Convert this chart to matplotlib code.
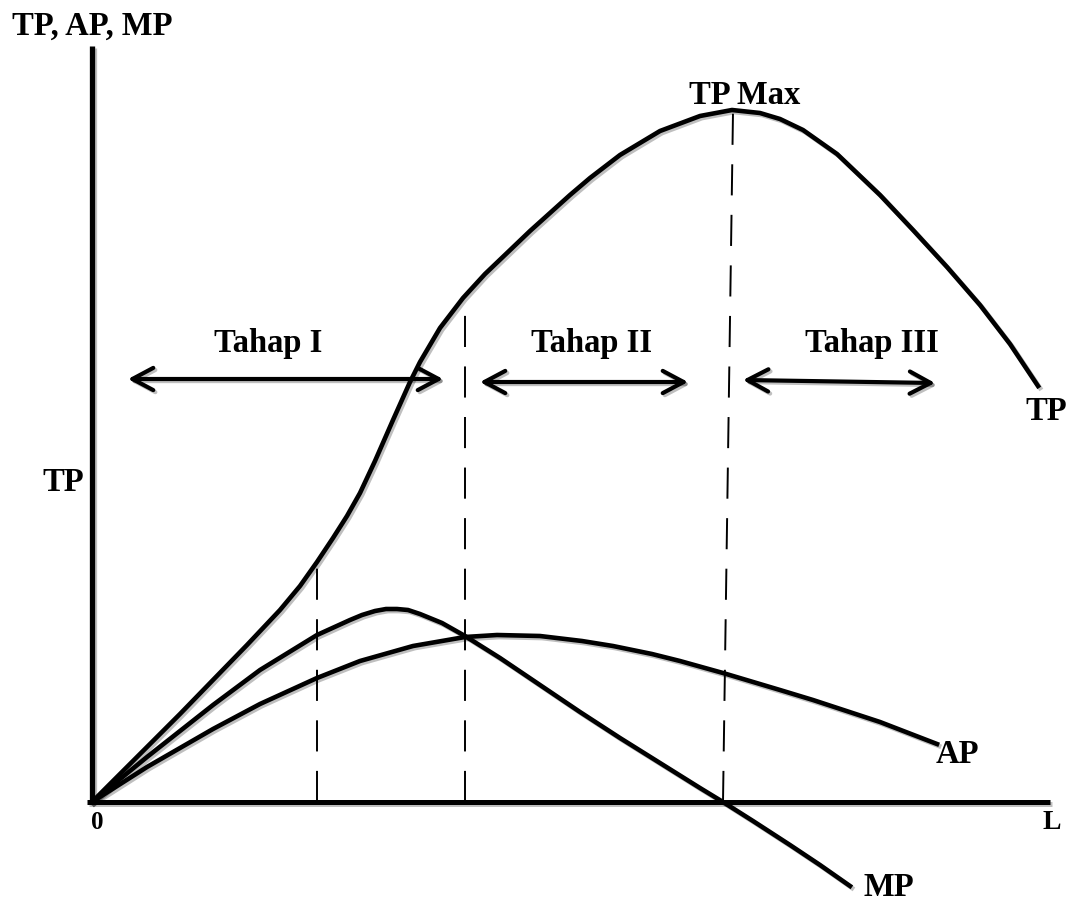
import matplotlib
matplotlib.use('Agg')
import matplotlib.pyplot as plt
import matplotlib.patheffects as pe
from matplotlib.patches import FancyArrowPatch

plt.rcParams['font.family'] = ['Liberation Serif', 'DejaVu Serif']
plt.rcParams['font.weight'] = 'bold'

# Curve points (L, value)
tp_x = [0, 28, 55, 88, 121, 155, 188, 208, 225, 241, 255, 268, 283, 301, 318, 328, 348, 371,
        393, 415, 438, 458, 478, 498, 528, 568, 608, 640, 668, 688, 711, 745, 788, 821, 855,
        888, 918, 946]
tp_y = [0, 28, 55, 88, 122, 157, 192, 216, 240, 264, 286, 309, 341, 382, 420, 440, 474, 504,
        528, 549, 571, 589, 607, 624, 647, 671, 686, 692, 689, 683, 672, 648, 607, 572, 535,
        497, 458, 416]

mp_x = [0, 55, 121, 168, 225, 258, 270, 283, 294, 305, 316, 328, 350, 373, 408, 448, 488,
        528, 568, 608, 631, 661, 698, 728, 758]
mp_y = [0, 45, 97, 132, 167, 182, 187, 191, 193, 193, 192, 188, 179, 166, 144, 117, 90,
        64, 39, 14, 0, -19, -43, -63, -84]

ap_x = [0, 55, 121, 168, 225, 268, 321, 373, 405, 448, 490, 521, 560, 588, 631, 688, 721,
        788, 845]
ap_y = [0, 35, 73, 98, 124, 141, 156, 165, 167, 166, 161, 156, 148, 141, 129, 112, 102,
        80, 58]

# dashed guide lines: (x bottom, x top, y top)
guide_x0 = [225, 373, 631]
guide_x1 = [225, 373, 641]
guide_top = [250, 500, 690]

# stage arrows
stage_labels = ['Tahap I', 'Tahap II', 'Tahap III']
stage_x0 = [36, 388, 651]
stage_x1 = [351, 596, 843]
stage_y0 = [423, 420, 422]
stage_y1 = [423, 420, 419]
stage_text_x = [176, 500, 780]

fig = plt.figure(figsize=(10.7, 9.03), dpi=100)
ax = fig.add_axes([0, 0, 1, 1])
ax.set_xlim(-92, 978)
ax.set_ylim(-100, 803)
ax.axis('off')

shadow = [pe.SimpleLineShadow(offset=(1.5, -1.5), shadow_color='k', alpha=0.25), pe.Normal()]

# axes
ax.plot([0, 0], [0, 756], color='black', lw=3.8, solid_capstyle='butt', path_effects=shadow)
ax.plot([-5, 958], [0, 0], color='black', lw=3.6, solid_capstyle='butt', path_effects=shadow)

# curves
for xs, ys in [(tp_x, tp_y), (mp_x, mp_y), (ap_x, ap_y)]:
    ax.plot(xs, ys, color='black', lw=3.3, solid_joinstyle='round', path_effects=shadow)

# dashed lines
for x0, x1, top in zip(guide_x0, guide_x1, guide_top):
    ax.plot([x0, x1], [0, top], color='black', lw=1.4, linestyle=(0, (16, 10)))

# arrows
for x0, x1, y0, y1 in zip(stage_x0, stage_x1, stage_y0, stage_y1):
    arr = FancyArrowPatch((x0, y0), (x1, y1), arrowstyle='<->,head_length=0.75,head_width=0.4',
                          mutation_scale=20, lw=3.0, color='black', shrinkA=0, shrinkB=0,
                          capstyle='round', joinstyle='round', path_effects=shadow)
    ax.add_patch(arr)

fs = 23.5
for lab, tx in zip(stage_labels, stage_text_x):
    ax.text(tx, 451, lab, ha='center', va='baseline', fontsize=fs, fontweight='bold')

ax.text(0.5, 768, 'TP, AP, MP', ha='center', va='baseline', fontsize=fs, fontweight='bold')
ax.text(653, 699, 'TP Max', ha='center', va='baseline', fontsize=fs, fontweight='bold')
ax.text(-29, 312, 'TP', ha='center', va='baseline', fontsize=fs, fontweight='bold')
ax.text(954, 383, 'TP', ha='center', va='baseline', fontsize=fs, fontweight='bold')
ax.text(865, 40, 'AP', ha='center', va='baseline', fontsize=fs, fontweight='bold')
ax.text(797, -93, 'MP', ha='center', va='baseline', fontsize=fs, fontweight='bold')
ax.text(960, -26, 'L', ha='center', va='baseline', fontsize=20, fontweight='bold')
ax.text(5, -26, '0', ha='center', va='baseline', fontsize=18, fontweight='bold')

plt.savefig('out.png', dpi=100)
